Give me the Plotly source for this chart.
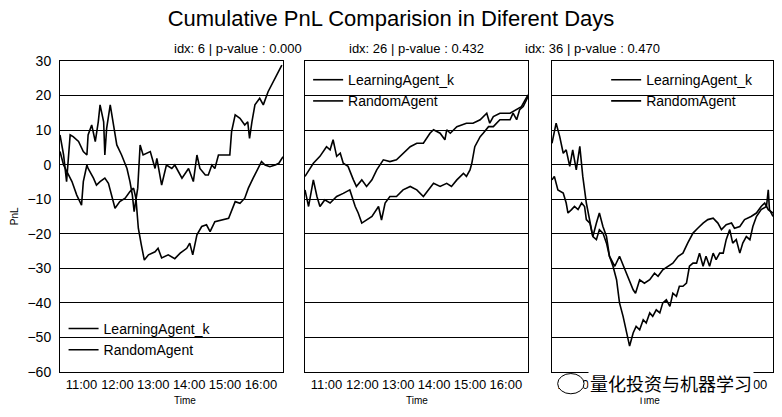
import plotly.graph_objects as go
from plotly.subplots import make_subplots

# %%
# Data (one trading day per panel)
day = "2020-01-02 "

times_6_learning = ["10:24", "10:30", "10:35", "10:41", "10:46", "10:55", "11:03", "11:09", "11:11", "11:17",
                    "11:23", "11:28", "11:31", "11:37", "11:39", "11:42", "11:48", "11:53", "11:59", "12:07",
                    "12:16", "12:21", "12:25", "12:28", "12:34", "12:38", "12:43", "12:55", "13:03", "13:06",
                    "13:14", "13:22", "13:31", "13:36", "13:48", "13:59", "14:07", "14:13", "14:18", "14:27",
                    "14:32", "14:38", "14:43", "14:49", "15:08", "15:11", "15:17", "15:25", "15:33", "15:38",
                    "15:41", "15:45", "15:50", "15:58", "16:04", "16:12", "16:21", "16:26", "16:35"]
pnl_6_learning = [8.6, 2.8, -4.9, 8.6, 8.1, 6.7, 3.8, 2.8, 8.6, 11.5,
                  6.7, 12.4, 17.3, 12.4, 2.8, 10.5, 17.3, 12.4, 5.7, 2.8,
                  -1.1, -4.9, -8.8, -13.6, -6.8, 5.7, 2.8, 3.8, -1.1, 1.8,
                  -5.9, -0.1, -1.1, -0.1, -3.9, -1.1, -4.9, 2.8, -1.1, -3.0,
                  -3.0, -0.1, -1.1, 2.8, 2.8, 9.6, 14.4, 13.4, 11.5, 12.4,
                  7.6, 12.4, 17.3, 19.2, 17.3, 21.1, 24.0, 26.0, 28.8]

times_6_random = ["10:24", "10:30", "10:44", "10:52", "11:00", "11:03", "11:09", "11:11", "11:20", "11:25",
                  "11:31", "11:39", "11:45", "11:50", "11:56", "12:04", "12:13", "12:21", "12:27", "12:31",
                  "12:35", "12:40", "12:45", "12:52", "13:03", "13:08", "13:14", "13:25", "13:36", "13:45",
                  "13:56", "14:01", "14:06", "14:13", "14:21", "14:29", "14:35", "14:43", "14:54", "15:06",
                  "15:17", "15:25", "15:33", "15:39", "15:47", "15:56", "16:01", "16:07", "16:15", "16:24",
                  "16:30", "16:37"]
pnl_6_random = [3.8, -0.1, -4.9, -8.8, -11.7, -4.9, -0.1, -1.1, -3.9, -5.9,
                -4.9, -3.9, -5.4, -8.8, -12.6, -10.7, -9.7, -7.8, -6.8, -9.7,
                -18.4, -23.2, -27.6, -26.1, -25.2, -24.2, -27.0, -26.1, -27.2, -25.6,
                -24.2, -22.7, -26.1, -20.3, -17.9, -17.4, -19.4, -16.5, -16.0, -15.5,
                -10.7, -11.2, -9.7, -6.8, -3.9, -1.1, 0.9, -0.1, -0.6, -0.1,
                0.4, 2.3]

times_26_learning = ["10:24", "10:38", "10:49", "11:00", "11:06", "11:11", "11:17", "11:23", "11:28", "11:36",
                     "11:45", "11:50", "11:59", "12:07", "12:16", "12:24", "12:35", "12:46", "12:57", "13:08",
                     "13:20", "13:31", "13:42", "13:53", "13:59", "14:10", "14:18", "14:21", "14:27", "14:38",
                     "14:54", "15:05", "15:17", "15:28", "15:33", "15:39", "15:50", "16:07", "16:18", "16:26",
                     "16:32", "16:37"]
pnl_26_learning = [-3.4, 0.4, 2.4, 5.2, 4.3, 7.2, 2.4, 3.3, 0.4, -0.5,
                   -4.4, -6.3, -4.4, -6.3, -4.4, -1.5, 1.4, 0.9, 1.4, 3.3,
                   5.2, 6.2, 6.2, 9.1, 10.1, 9.1, 7.2, 10.1, 9.1, 11.0,
                   12.0, 12.0, 13.0, 14.9, 12.0, 13.9, 14.9, 14.9, 15.9, 16.8,
                   18.7, 20.2]

times_26_random = ["10:24", "10:30", "10:38", "10:44", "10:49", "10:57", "11:06", "11:17", "11:28", "11:39",
                   "11:48", "11:53", "11:59", "12:07", "12:16", "12:27", "12:32", "12:38", "12:46", "12:57",
                   "13:08", "13:20", "13:31", "13:42", "13:50", "13:59", "14:10", "14:21", "14:29", "14:38",
                   "14:49", "14:54", "15:00", "15:03", "15:08", "15:17", "15:22", "15:31", "15:39", "15:50",
                   "16:07", "16:12", "16:18", "16:23", "16:29", "16:37"]
pnl_26_random = [-7.3, -12.1, -4.4, -9.2, -12.1, -10.2, -11.1, -9.2, -8.3, -7.3,
                 -12.1, -14.0, -16.9, -16.0, -15.0, -12.1, -16.0, -11.1, -9.2, -9.2,
                 -7.3, -6.3, -7.3, -9.2, -7.3, -5.4, -6.3, -5.4, -6.3, -4.4,
                 -2.5, -3.4, -1.5, 0.4, 5.2, 8.1, 9.1, 11.0, 11.0, 13.0,
                 13.0, 14.9, 13.0, 15.9, 16.8, 19.7]

times_36_learning = ["10:24", "10:31", "10:37", "10:43", "10:48", "10:54", "10:59", "11:05", "11:11", "11:16",
                     "11:22", "11:28", "11:33", "11:39", "11:44", "11:50", "11:56", "12:01", "12:10", "12:18",
                     "12:27", "12:35", "12:41", "12:45", "12:52", "13:00", "13:09", "13:17", "13:23", "13:31",
                     "13:40", "13:48", "13:57", "14:05", "14:13", "14:22", "14:30", "14:39", "14:47", "14:56",
                     "15:04", "15:10", "15:18", "15:27", "15:32", "15:41", "15:49", "16:00", "16:09", "16:17",
                     "16:23", "16:29", "16:37"]
pnl_36_learning = [6.2, 12.0, 8.2, 3.3, 4.3, -0.5, 4.3, -1.5, 5.3, -3.4,
                   -11.1, -15.9, -20.8, -16.9, -14.0, -17.9, -20.8, -26.5, -29.4, -26.5,
                   -30.4, -33.3, -36.2, -37.2, -33.3, -34.3, -33.3, -31.4, -32.3, -30.4,
                   -29.4, -28.5, -26.5, -25.6, -22.7, -19.8, -18.4, -16.9, -15.9, -15.5,
                   -16.9, -18.8, -17.4, -16.9, -18.4, -17.9, -15.9, -15.0, -14.0, -12.1,
                   -11.1, -13.0, -14.0]

times_36_random = ["10:24", "10:28", "10:34", "10:43", "10:48", "10:51", "10:57", "11:02", "11:08", "11:14",
                   "11:19", "11:22", "11:28", "11:33", "11:39", "11:44", "11:50", "11:56", "12:01", "12:07",
                   "12:13", "12:18", "12:24", "12:29", "12:35", "12:41", "12:46", "12:52", "12:58", "13:03",
                   "13:09", "13:14", "13:20", "13:26", "13:31", "13:37", "13:43", "13:48", "13:54", "13:59",
                   "14:05", "14:11", "14:16", "14:22", "14:28", "14:33", "14:39", "14:44", "14:50", "14:56",
                   "15:01", "15:07", "15:13", "15:18", "15:24", "15:29", "15:35", "15:41", "15:46", "15:52",
                   "15:58", "16:03", "16:09", "16:17", "16:26", "16:29", "16:31", "16:37"]
pnl_36_random = [-4.4, -3.4, -7.3, -8.2, -11.1, -14.0, -13.0, -12.1, -13.0, -11.1,
                 -12.1, -15.9, -16.9, -20.8, -21.7, -18.8, -19.8, -22.7, -26.5, -29.4,
                 -33.3, -40.0, -43.9, -47.8, -52.5, -48.7, -46.8, -47.8, -44.9, -45.8,
                 -42.9, -43.9, -42.0, -42.9, -40.0, -39.1, -41.0, -37.2, -38.1, -35.2,
                 -35.2, -34.3, -29.4, -28.5, -28.5, -25.6, -29.4, -26.5, -29.4, -25.6,
                 -27.5, -25.6, -25.6, -21.7, -18.8, -22.7, -21.7, -25.6, -22.7, -20.8,
                 -21.7, -17.9, -15.0, -13.0, -12.1, -7.3, -13.0, -15.0]

panel_titles = ["idx: 6 | p-value : 0.000", "idx: 26 | p-value : 0.432", "idx: 36 | p-value : 0.470"]
x_ticks = ["11:00", "12:00", "13:00", "14:00", "15:00", "16:00"]
y_ticks = [30, 20, 10, 0, -10, -20, -30, -40, -50, -60]

# %%
# Build the figure
font_name = "Liberation Sans, Arial, sans-serif"
domains = [[0.0, 0.3128], [0.3436, 0.6564], [0.690, 1.0]]

fig = make_subplots(rows=1, cols=3, shared_yaxes=True)

panels = [
    (times_6_learning, pnl_6_learning, times_6_random, pnl_6_random),
    (times_26_learning, pnl_26_learning, times_26_random, pnl_26_random),
    (times_36_learning, pnl_36_learning, times_36_random, pnl_36_random),
]
legend_names = ["legend", "legend2", "legend3"]

for i, (t_learn, p_learn, t_rand, p_rand) in enumerate(panels):
    fig.add_trace(go.Scatter(x=[day + t for t in t_learn], y=p_learn, mode="lines",
                             name="LearningAgent_k", line=dict(color="black", width=1.6),
                             legend=legend_names[i]), row=1, col=i + 1)
    fig.add_trace(go.Scatter(x=[day + t for t in t_rand], y=p_rand, mode="lines",
                             name="RandomAgent", line=dict(color="black", width=1.6),
                             legend=legend_names[i]), row=1, col=i + 1)

fig.update_xaxes(range=[day + "10:24", day + "16:37"],
                 tickvals=[day + t for t in x_ticks], ticktext=x_ticks, tickangle=0,
                 showgrid=False, zeroline=False, showline=True, mirror=True,
                 linecolor="black", linewidth=1, ticks="",
                 automargin=False,
                 tickfont=dict(family=font_name, size=13, color="black"))
fig.update_yaxes(range=[-60, 30], tickvals=y_ticks,
                 showgrid=True, gridcolor="black", gridwidth=1, zeroline=False,
                 showline=True, mirror=True, linecolor="black", linewidth=1,
                 ticks="outside", ticklen=5, tickcolor="rgba(0,0,0,0)", automargin=False,
                 tickfont=dict(family=font_name, size=14, color="black"))
fig.update_yaxes(showticklabels=False, row=1, col=2)
fig.update_yaxes(showticklabels=False, row=1, col=3)

legend_style = dict(bgcolor="rgba(0,0,0,0)", font=dict(family=font_name, size=14, color="black"),
                    xanchor="left", yanchor="top", tracegroupgap=0)

annotations = []
for i, title in enumerate(panel_titles):
    x_mid = (domains[i][0] + domains[i][1]) / 2
    annotations.append(dict(text=title, x=x_mid, y=1, xref="paper", yref="paper",
                            yanchor="middle", yshift=13, showarrow=False,
                            font=dict(family=font_name, size=13, color="black")))
    annotations.append(dict(text="Time", x=x_mid, y=-0.093, xref="paper", yref="paper",
                            yanchor="middle", showarrow=False,
                            font=dict(family=font_name, size=10, color="black")))
annotations.append(dict(text="PnL", x=-0.074, y=0.5, xref="paper", yref="paper", textangle=-90,
                        showarrow=False, font=dict(family=font_name, size=10, color="black")))
# watermark over the third panel's tick labels
annotations.append(dict(text="量化投资与机器学习", x=0.857, y=-0.035, xref="paper", yref="paper",
                        xanchor="center", yanchor="middle", showarrow=False, bgcolor="white",
                        borderpad=1, font=dict(family="Noto Sans CJK SC", size=18, color="black")))

fig.update_layout(
    width=782, height=417,
    margin=dict(l=60, r=9, t=61, b=45),
    paper_bgcolor="white", plot_bgcolor="white",
    title=dict(text="Cumulative PnL Comparision in Diferent Days", x=0.5, xref="container",
               y=0.957, yref="container", xanchor="center", yanchor="middle",
               font=dict(family=font_name, size=22, color="black")),
    xaxis=dict(domain=domains[0]), xaxis2=dict(domain=domains[1]), xaxis3=dict(domain=domains[2]),
    legend=dict(x=0.005, y=0.19, **legend_style),
    legend2=dict(x=0.348, y=0.99, **legend_style),
    legend3=dict(x=0.766, y=0.99, **legend_style),
    annotations=annotations,
    shapes=[dict(type="circle", xref="paper", yref="paper", x0=0.698, x1=0.735, y0=-0.07, y1=-0.005,
                 line=dict(color="black", width=1), fillcolor="white")],
)

# drop the page margin so the 782x417 figure sits at the window's top-left corner
fig.write_html("out.html", config={"displayModeBar": False},
               post_script="document.body.style.margin='0px';")
